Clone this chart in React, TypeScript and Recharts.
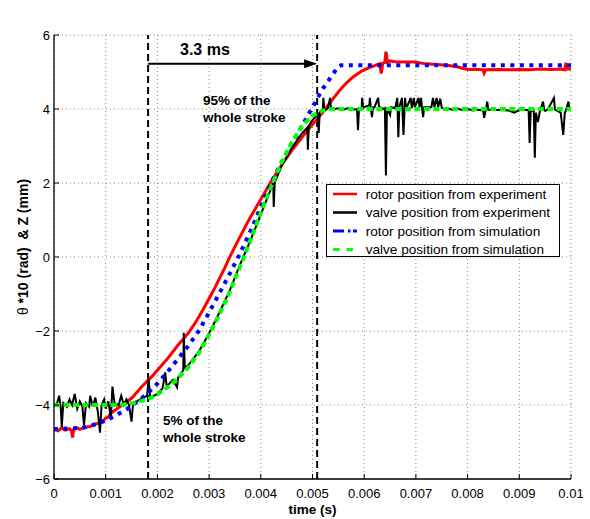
import React from 'react';
import {
  LineChart,
  Line,
  XAxis,
  YAxis,
  CartesianGrid,
  ReferenceLine,
  ReferenceDot,
  Legend,
} from 'recharts';

const FONT = '"Liberation Sans", Arial, Helvetica, sans-serif';
const CHART_W = 590;
const CHART_H = 519;

// time (s), position: rotor angle*10 (rad) / valve lift (mm)
const rotorExperiment: [number, number][] = [
  [0, -4.66], [0.00008, -4.7], [0.00015, -4.62], [0.00022, -4.68], [0.0003, -4.64],
  [0.00034, -4.7], [0.00036, -4.88], [0.00038, -4.66], [0.00045, -4.62], [0.0005, -4.66],
  [0.0006, -4.6], [0.0007, -4.58], [0.00078, -4.52], [0.00085, -4.5], [0.0009, -4.42],
  [0.00095, -4.45], [0.001, -4.35], [0.00105, -4.33], [0.0011, -4.22], [0.0012, -4.12],
  [0.0013, -4.02], [0.0014, -3.92], [0.0015, -3.82], [0.0016, -3.66], [0.0017, -3.5],
  [0.0018, -3.36], [0.0019, -3.22], [0.002, -3.06], [0.0021, -2.9], [0.0022, -2.74],
  [0.0023, -2.56], [0.0024, -2.38], [0.0025, -2.22], [0.0026, -2.05], [0.0027, -1.85],
  [0.0028, -1.62], [0.0029, -1.38], [0.003, -1.12], [0.0031, -0.86], [0.0032, -0.58],
  [0.0033, -0.3], [0.0034, 0.0], [0.0035, 0.28], [0.0036, 0.55], [0.0037, 0.82],
  [0.0038, 1.08], [0.0039, 1.32], [0.004, 1.56], [0.0041, 1.8], [0.0042, 2.04],
  [0.0043, 2.26], [0.0044, 2.48], [0.0045, 2.68], [0.0046, 2.88], [0.0047, 3.06],
  [0.0048, 3.24], [0.0049, 3.42], [0.005, 3.58], [0.0051, 3.74], [0.0052, 3.92],
  [0.0053, 4.1], [0.0054, 4.28], [0.0055, 4.46], [0.0056, 4.62], [0.0057, 4.76],
  [0.0058, 4.88], [0.0059, 4.98], [0.006, 5.06], [0.0061, 5.12], [0.0062, 5.17],
  [0.0063, 5.22], [0.00633, 4.96], [0.00636, 5.24], [0.0064, 5.26], [0.00642, 5.55],
  [0.00645, 5.27], [0.0065, 5.3], [0.0066, 5.28], [0.0068, 5.27], [0.007, 5.27],
  [0.0071, 5.24], [0.0072, 5.22], [0.0074, 5.2], [0.0076, 5.18], [0.0078, 5.14],
  [0.0079, 5.1], [0.008, 5.07], [0.0082, 5.07], [0.0083, 5.06], [0.00832, 4.97],
  [0.00835, 5.06], [0.0086, 5.07], [0.0088, 5.06], [0.009, 5.07], [0.0092, 5.06],
  [0.0094, 5.08], [0.0096, 5.07], [0.0098, 5.08], [0.00988, 5.06], [0.0099, 5.25],
  [0.00993, 5.08], [0.01, 5.08],
];

const valveExperiment: [number, number][] = [
  [0, -3.95], [0.00005, -4.0], [0.0001, -3.75], [0.00013, -4.05], [0.00015, -4.6],
  [0.00018, -3.95], [0.00025, -4.05], [0.0003, -3.85], [0.00035, -4.0], [0.0004, -3.7],
  [0.00045, -4.1], [0.0005, -3.9], [0.00055, -4.05], [0.00058, -4.55], [0.00062, -3.95],
  [0.00068, -4.05], [0.0007, -3.75], [0.00075, -4.05], [0.0008, -3.8], [0.00085, -4.2],
  [0.00089, -4.75], [0.00092, -4.0], [0.00097, -3.85], [0.001, -4.1], [0.00105, -3.9],
  [0.0011, -4.35], [0.00113, -3.5], [0.00117, -3.95], [0.00125, -4.0], [0.0013, -3.75],
  [0.00135, -4.0], [0.0014, -3.85], [0.00145, -4.0], [0.0015, -4.45], [0.00153, -3.95],
  [0.0016, -3.9], [0.0017, -3.82], [0.0018, -3.75], [0.00183, -3.3], [0.00186, -3.8],
  [0.002, -3.7], [0.0021, -3.55], [0.00215, -3.12], [0.00218, -3.5], [0.0023, -3.32],
  [0.00238, -3.52], [0.0024, -3.26], [0.0025, -3.06], [0.00251, -2.05], [0.00253, -3.0],
  [0.0026, -2.92], [0.0028, -2.56], [0.003, -2.06], [0.0032, -1.5], [0.0034, -0.9],
  [0.0036, -0.2], [0.0038, 0.45], [0.004, 1.15], [0.0042, 1.85], [0.00424, 2.0],
  [0.00425, 1.35], [0.00427, 2.02], [0.0044, 2.45], [0.0046, 2.95], [0.0048, 3.35],
  [0.0049, 3.5], [0.00491, 2.9], [0.00493, 3.55], [0.005, 3.7], [0.0051, 3.85],
  [0.00512, 3.35], [0.00514, 3.9], [0.0052, 4.0], [0.00521, 4.3], [0.00523, 3.95],
  [0.0053, 4.02], [0.00534, 4.3], [0.00536, 3.98], [0.0055, 4.02], [0.0056, 3.98],
  [0.0057, 4.03], [0.0058, 3.99], [0.00586, 4.0], [0.00588, 3.43], [0.0059, 4.02],
  [0.00595, 4.0], [0.00596, 4.3], [0.00598, 4.02], [0.006, 4.05], [0.0061, 4.1],
  [0.00611, 4.3], [0.00613, 4.0], [0.00615, 3.78], [0.00617, 4.05], [0.0062, 4.05],
  [0.00627, 4.3], [0.00629, 4.02], [0.0063, 4.05], [0.00638, 4.0], [0.0064, 4.02],
  [0.00642, 2.2], [0.00644, 4.02], [0.0065, 3.84], [0.00652, 4.05], [0.0066, 4.02],
  [0.00664, 4.3], [0.00666, 3.24], [0.00668, 4.05], [0.00673, 4.3], [0.00676, 3.3],
  [0.00679, 4.3], [0.00681, 4.0], [0.0069, 4.3], [0.00692, 4.02], [0.00696, 4.3],
  [0.00698, 4.05], [0.00705, 4.3], [0.00707, 4.05], [0.0071, 4.3], [0.00712, 4.0],
  [0.00714, 3.78], [0.00716, 4.05], [0.0073, 4.05], [0.00733, 4.3], [0.00736, 4.05],
  [0.0074, 4.3], [0.00743, 4.05], [0.00747, 4.28], [0.0075, 4.03], [0.0076, 4.02],
  [0.0077, 3.98], [0.0078, 4.02], [0.0079, 3.97], [0.008, 4.0], [0.0081, 3.96],
  [0.0082, 3.98], [0.0083, 3.96], [0.00832, 3.76], [0.00835, 3.97], [0.00838, 4.2],
  [0.0084, 3.98], [0.0086, 3.97], [0.0088, 3.96], [0.0089, 3.9], [0.009, 3.97],
  [0.0091, 3.97], [0.00918, 3.97], [0.0092, 3.08], [0.00922, 3.95], [0.00928, 3.95],
  [0.0093, 2.68], [0.00932, 3.9], [0.00936, 3.65], [0.0094, 3.95], [0.00946, 4.2],
  [0.00948, 3.98], [0.0095, 3.95], [0.00955, 3.98], [0.00967, 4.3], [0.00969, 3.98],
  [0.0098, 3.9], [0.00985, 3.3], [0.00988, 3.9], [0.0099, 3.95], [0.00995, 4.2],
  [0.00997, 3.98], [0.01, 4.0],
];

const rotorSimulation: [number, number][] = [
  [0, -4.65], [0.0004, -4.63], [0.0006, -4.6], [0.0008, -4.52], [0.001, -4.42],
  [0.0012, -4.28], [0.0014, -4.12], [0.0016, -3.92], [0.0018, -3.7], [0.002, -3.42],
  [0.0022, -3.1], [0.0024, -2.75], [0.0026, -2.4], [0.0028, -2.0], [0.003, -1.5],
  [0.0032, -0.98], [0.0034, -0.45], [0.0036, 0.1], [0.0038, 0.7], [0.004, 1.35],
  [0.0042, 2.0], [0.0044, 2.55], [0.0046, 3.05], [0.0048, 3.55], [0.005, 4.05],
  [0.0052, 4.55], [0.0054, 4.95], [0.0055, 5.15], [0.00555, 5.18], [0.01, 5.18],
];

const valveSimulation: [number, number][] = [
  [0, -4.0], [0.0012, -4.0], [0.0014, -3.98], [0.0016, -3.93], [0.0018, -3.85],
  [0.002, -3.72], [0.0022, -3.52], [0.0024, -3.28], [0.0026, -2.98], [0.0028, -2.6],
  [0.003, -2.1], [0.0032, -1.55], [0.0034, -0.95], [0.0036, -0.25], [0.0038, 0.45],
  [0.004, 1.2], [0.0042, 1.9], [0.0044, 2.55], [0.0046, 3.1], [0.0048, 3.55],
  [0.005, 3.82], [0.0052, 3.96], [0.0054, 4.0], [0.01, 4.0],
];

const timeTicks = [0, 0.001, 0.002, 0.003, 0.004, 0.005, 0.006, 0.007, 0.008, 0.009, 0.01];
const positionTicks = [-6, -4, -2, 0, 2, 4, 6];

const seriesNames = [
  'rotor position from experiment',
  'valve position from experiment',
  'rotor position from simulation',
  'valve position from simulation',
];

// 5% and 95% of the whole stroke, and the level of the duration arrow
const strokeStart = 0.00182;
const strokeEnd = 0.00509;
const arrowLevel = 5.22;

const toPoints = (rows: [number, number][]) => rows.map(([t, v]) => ({ t, v }));

const fmtTime = (v: number) => (v === 0 ? '0' : String(+v.toFixed(3)));
const fmtPos = (v: number) => (v < 0 ? '\u2212' + Math.abs(v) : String(v));

const TICK_LEN = 5;

function BottomTick(props: any) {
  const { x, y, payload } = props;
  return (
    <g>
      <line x1={x} x2={x} y1={y} y2={y - TICK_LEN} stroke="#000" strokeWidth={1} />
      <text x={x} y={y + 19} textAnchor="middle" fontSize={13} fontFamily={FONT} fill="#000">
        {fmtTime(payload.value)}
      </text>
    </g>
  );
}

function TopTick(props: any) {
  const { x, y } = props;
  return <line x1={x} x2={x} y1={y} y2={y + TICK_LEN} stroke="#000" strokeWidth={1} />;
}

function LeftTick(props: any) {
  const { x, y, payload } = props;
  return (
    <g>
      <line x1={x} x2={x + TICK_LEN} y1={y} y2={y} stroke="#000" strokeWidth={1} />
      <text x={x - 4} y={y + 4.7} textAnchor="end" fontSize={13} fontFamily={FONT} fill="#000">
        {fmtPos(payload.value)}
      </text>
    </g>
  );
}

function RightTick(props: any) {
  const { x, y } = props;
  return <line x1={x} x2={x - TICK_LEN} y1={y} y2={y} stroke="#000" strokeWidth={1} />;
}

function ArrowShape(props: any) {
  const { x1, y1, x2, y2 } = props;
  const head = 13;
  const half = 4.5;
  return (
    <g>
      <line x1={x1} y1={y1} x2={x2 - head + 1} y2={y2} stroke="#000" strokeWidth={2} />
      <polygon points={`${x2},${y2} ${x2 - head},${y2 - half} ${x2 - head},${y2 + half}`} fill="#000" />
    </g>
  );
}

const noteText = (lines: string[], size: number, lineGap: number) => (p: any) => (
  <text
    x={p.cx}
    y={p.cy}
    fontSize={size}
    fontWeight="bold"
    fontFamily={FONT}
    fill="#000"
  >
    {lines.map((s, i) => (
      <tspan key={i} x={p.cx} dy={i === 0 ? 0 : lineGap}>
        {s}
      </tspan>
    ))}
  </text>
);

const legendStyles = [
  { stroke: '#ff0000', width: 2.5, dash: undefined as string | undefined },
  { stroke: '#000000', width: 2.5, dash: undefined as string | undefined },
  { stroke: '#0000ff', width: 3, dash: '11 4 2.5 2.5' },
  { stroke: '#00ff00', width: 3, dash: '6.7 6.7' },
];

function LegendBox() {
  const w = 234;
  const h = 73;
  return (
    <svg width={w} height={h} style={{ display: 'block' }}>
      <rect x={0.5} y={0.5} width={w - 1} height={h - 1} fill="#fff" stroke="#000" strokeWidth={1} />
      {seriesNames.map((name, i) => {
        const cy = 10 + i * 18.5;
        const st = legendStyles[i];
        return (
          <g key={name}>
            <line x1={7} x2={31} y1={cy} y2={cy} stroke={st.stroke} strokeWidth={st.width} strokeDasharray={st.dash} />
            <text x={39.7} y={cy + 4.6} fontSize={13.6} fontFamily={FONT} fill="#000">
              {name}
            </text>
          </g>
        );
      })}
    </svg>
  );
}

export default function App() {
  return (
    <div style={{ position: 'absolute', left: 0, top: 0, width: CHART_W, height: CHART_H, background: '#fff' }}>
      <LineChart width={CHART_W} height={CHART_H} margin={{ top: 35, right: 19, bottom: 0, left: 0 }}>
        <CartesianGrid stroke="#8a8a8a" strokeDasharray="1 3" />
        <XAxis
          dataKey="t"
          type="number"
          domain={[0, 0.01]}
          ticks={timeTicks}
          interval={0}
          allowDataOverflow
          height={40}
          tickSize={0}
          tickMargin={0}
          tickLine={false}
          axisLine={{ stroke: '#000', strokeWidth: 1.3 }}
          tick={<BottomTick />}
          label={{
            content: (p: any) => {
              const vb = p.viewBox;
              return (
                <text x={vb.x + vb.width / 2} y={vb.y + 35} textAnchor="middle" fontSize={13.5} fontWeight="bold" fontFamily={FONT} fill="#000">
                  time (s)
                </text>
              );
            },
          }}
        />
        <XAxis
          xAxisId="top"
          orientation="top"
          dataKey="t"
          type="number"
          domain={[0, 0.01]}
          ticks={timeTicks}
          interval={0}
          height={0}
          tickSize={0}
          tickMargin={0}
          tickLine={false}
          axisLine={{ stroke: '#000', strokeWidth: 1.3 }}
          tick={<TopTick />}
          label={{
            content: (p: any) => {
              const vb = p.viewBox;
              return (
                <text x={vb.x + vb.width / 2} y={22} textAnchor="middle" fontSize={13.8} fontWeight="bold" fontFamily={FONT} fill="#000">
                  Rotor/Valve Position vs. Time in Transition Mode
                </text>
              );
            },
          }}
        />
        <YAxis
          type="number"
          domain={[-6, 6]}
          ticks={positionTicks}
          interval={0}
          allowDataOverflow
          width={54}
          tickSize={0}
          tickMargin={0}
          tickLine={false}
          axisLine={{ stroke: '#000', strokeWidth: 1.3 }}
          tick={<LeftTick />}
          label={{
            content: (p: any) => {
              const vb = p.viewBox;
              const cx = 28;
              const cy = vb.y + vb.height / 2 - 10;
              return (
                <text
                  x={cx}
                  y={cy}
                  transform={`rotate(-90, ${cx}, ${cy})`}
                  textAnchor="middle"
                  fontSize={14}
                  fontWeight="bold"
                  fontFamily={FONT}
                  fill="#000"
                  style={{ whiteSpace: 'pre' }}
                >
                  <tspan fontWeight="normal">θ</tspan>
                  {' *10 (rad)  & Z (mm)'}
                </text>
              );
            },
          }}
        />
        <YAxis
          yAxisId="right"
          orientation="right"
          type="number"
          domain={[-6, 6]}
          ticks={positionTicks}
          interval={0}
          width={0}
          tickSize={0}
          tickMargin={0}
          tickLine={false}
          axisLine={{ stroke: '#000', strokeWidth: 1.3 }}
          tick={<RightTick />}
        />

        <ReferenceLine x={strokeStart} stroke="#000" strokeWidth={2} strokeDasharray="7 4" />
        <ReferenceLine x={strokeEnd} stroke="#000" strokeWidth={2} strokeDasharray="7 4" />
        <ReferenceLine
          segment={[
            { x: strokeStart, y: arrowLevel },
            { x: strokeEnd, y: arrowLevel },
          ]}
          shape={ArrowShape}
        />

        <Line
          data={toPoints(rotorExperiment)}
          dataKey="v"
          type="linear"
          stroke="#ff0000"
          strokeWidth={3}
          dot={false}
          isAnimationActive={false}
          name={seriesNames[0]}
        />
        <Line
          data={toPoints(valveExperiment)}
          dataKey="v"
          type="linear"
          stroke="#000000"
          strokeWidth={2}
          dot={false}
          isAnimationActive={false}
          name={seriesNames[1]}
        />
        <Line
          data={toPoints(rotorSimulation)}
          dataKey="v"
          type="linear"
          stroke="#0000ff"
          strokeWidth={4}
          strokeDasharray="4 5.5"
          dot={false}
          isAnimationActive={false}
          name={seriesNames[2]}
        />
        <Line
          data={toPoints(valveSimulation)}
          dataKey="v"
          type="linear"
          stroke="#00ff00"
          strokeWidth={4}
          strokeDasharray="6 3.5"
          dot={false}
          isAnimationActive={false}
          name={seriesNames[3]}
        />

        <ReferenceDot x={0.002437} y={5.46} r={0} shape={noteText(['3.3 ms'], 16, 0)} />
        <ReferenceDot x={0.002882} y={4.108} r={0} shape={noteText(['95% of the', 'whole stroke'], 13.5, 17)} />
        <ReferenceDot x={0.002108} y={-4.54} r={0} shape={noteText(['5% of the', 'whole stroke'], 13.5, 17.5)} />

        <Legend
          layout="vertical"
          verticalAlign="middle"
          align="center"
          wrapperStyle={{ left: 326, top: 184, width: 234, height: 73 }}
          content={() => <LegendBox />}
        />
      </LineChart>
    </div>
  );
}
